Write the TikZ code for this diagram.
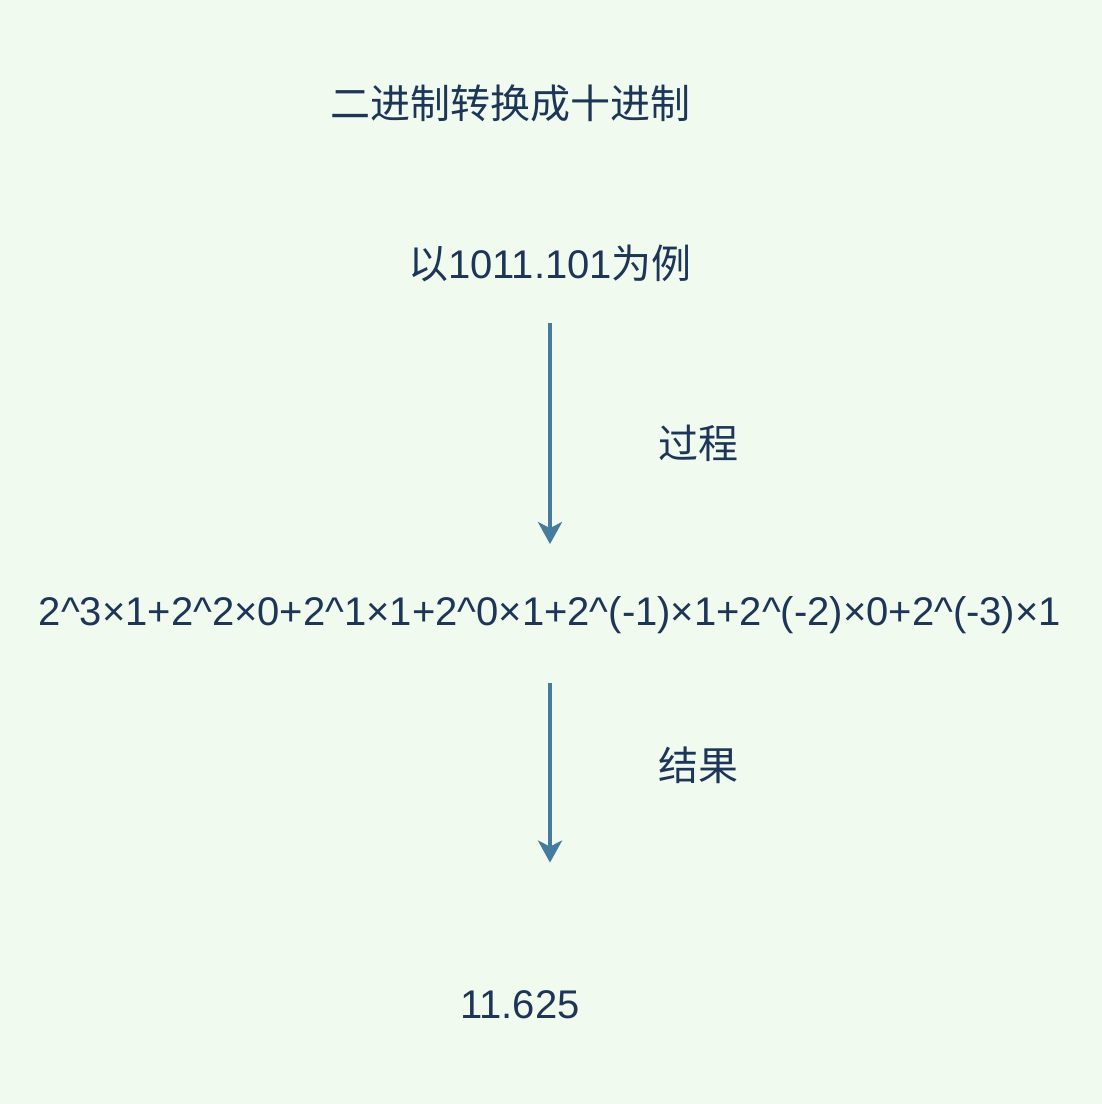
\documentclass[tikz,border=0pt]{standalone}
\usepackage{fontspec}
\setmainfont{Liberation Sans}
\newfontfamily\cjk{Noto Sans CJK SC}
\usetikzlibrary{arrows.meta}
\definecolor{bgcol}{HTML}{F1FAEE}
\definecolor{txtcol}{HTML}{1D3557}
\definecolor{arrcol}{HTML}{457B9D}
\begin{document}
\begin{tikzpicture}[x=0.75pt, y=-0.75pt,
  every node/.style={text=txtcol, font=\fontsize{30pt}{36pt}\selectfont, inner sep=0pt},
  flow/.style={draw=arrcol, line width=3pt, -{Stealth[length=16.5pt,width=18pt,inset=4.5pt]}}]
  \fill [bgcol] (0,0) rectangle (1102,1104);
  \node (title) at (510,103) {\cjk 二进制转换成十进制};
  \node (ex) at (550,263) {{\cjk 以}1011.101{\cjk 为例}};
  \node (formula) at (550,615) {2\^{}3×1+2\^{}2×0+2\^{}1×1+2\^{}0×1+2\^{}(-1)×1+2\^{}(-2)×0+2\^{}(-3)×1};
  \node (res) at (520,1005) {11.625};
  \node (proc) at (698,443) {\cjk 过程};
  \node (outc) at (698,765) {\cjk 结果};
  \draw [flow, shorten <=30.75pt, shorten >=39pt] (ex.south -| formula) -- (formula.north);
  \draw [flow, shorten <=36.75pt, shorten >=96pt] (formula.south) -- (formula |- res.north);
\end{tikzpicture}
\end{document}
